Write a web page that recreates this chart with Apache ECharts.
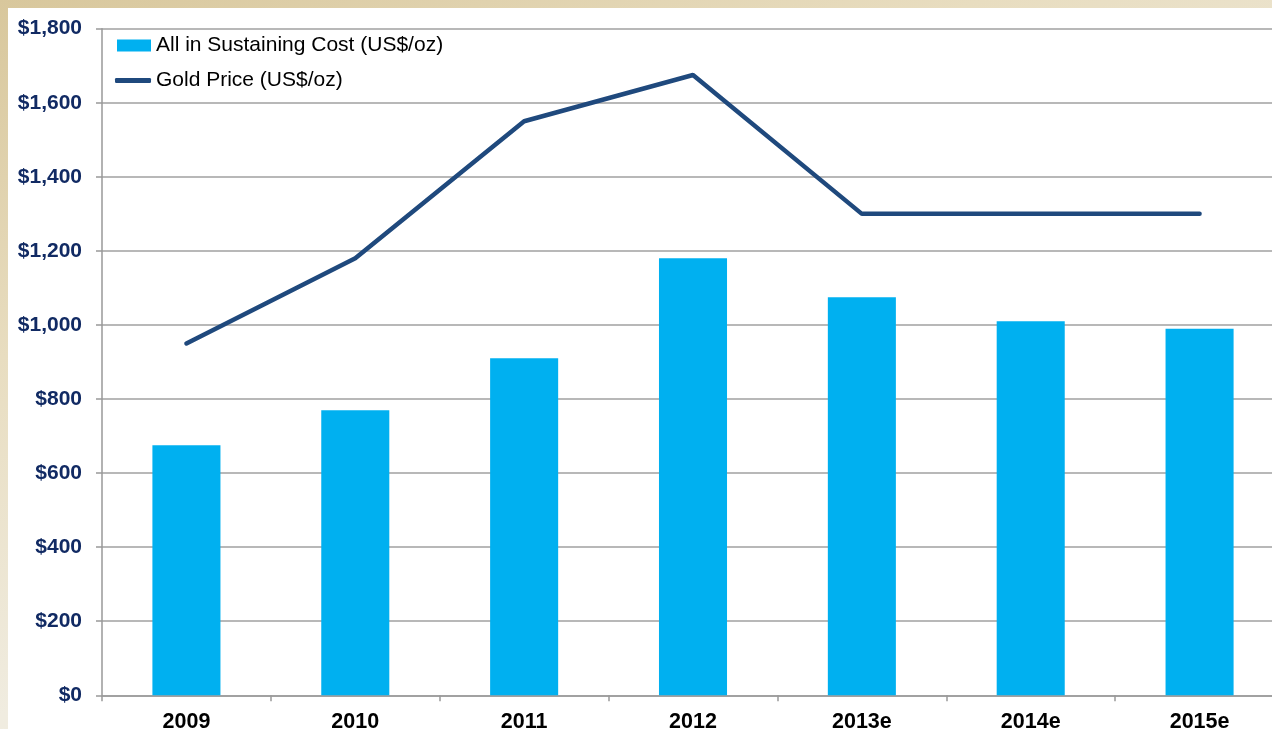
<!DOCTYPE html>
<html>
<head>
<meta charset="utf-8">
<script src="https://cdn.jsdelivr.net/npm/echarts@6/dist/echarts.min.js"></script>
<style>
  html, body {
    margin: 0;
    width: 1272px;
    height: 729px;
    overflow: hidden;
    background: linear-gradient(160deg, #d8c79c 0%, #e8ddc0 30%, #f0ece0 60%, #f1eee4 100%);
  }
  #chart {
    position: absolute;
    left: 8px;
    top: 8px;
    width: 1264px;
    height: 721px;
    background: #ffffff;
  }
</style>
</head>
<body>
<div id="chart"></div>
<script>
// categories and values
const years = ['2009', '2010', '2011', '2012', '2013e', '2014e', '2015e'];
const sustainingCost = [675, 770, 910, 1180, 1075, 1010, 990];
const goldPrice = [950, 1180, 1550, 1675, 1300, 1300, 1300];

const costName = 'All in Sustaining Cost (US$/oz)';
const priceName = 'Gold Price (US$/oz)';

const legendText = {
  fontFamily: 'Liberation Sans, Arial, sans-serif',
  fontSize: 21,
  color: '#000'
};

const chart = echarts.init(document.getElementById('chart'));

chart.setOption({
  animation: false,
  // two legends so the line icon can be thin and the bar icon tall
  legend: [
    {
      left: 104,
      top: 22,
      itemWidth: 34,
      itemHeight: 12,
      textStyle: legendText,
      data: [{ name: costName, icon: 'rect' }]
    },
    {
      left: 102,
      top: 57,
      itemWidth: 36,
      itemHeight: 5,
      textStyle: legendText,
      data: [{ name: priceName, icon: 'roundRect' }]
    }
  ],
  grid: {
    left: 94,
    right: -12,
    top: 20.7,
    bottom: 33.7,
    outerBoundsMode: 'none'
  },
  xAxis: {
    type: 'category',
    data: years,
    axisLine: { lineStyle: { color: '#999', width: 1.5 } },
    axisTick: { show: true, length: 6, lineStyle: { color: '#999', width: 1.5 } },
    axisLabel: {
      margin: 16,
      fontFamily: 'Liberation Sans, Arial, sans-serif',
      fontWeight: 'bold',
      fontSize: 21.5,
      color: '#000'
    }
  },
  yAxis: {
    type: 'value',
    min: 0,
    max: 1800,
    interval: 200,
    axisLine: { show: true, lineStyle: { color: '#999', width: 1.5 } },
    axisTick: { show: true, length: 6, lineStyle: { color: '#999', width: 1.5 } },
    splitLine: { lineStyle: { color: '#a0a0a0', width: 1.5 } },
    axisLabel: {
      margin: 20,
      fontFamily: 'Liberation Sans, Arial, sans-serif',
      fontWeight: 'bold',
      fontSize: 21,
      color: '#112a63',
      formatter: v => '$' + v.toLocaleString('en-US')
    }
  },
  series: [
    {
      name: costName,
      type: 'bar',
      data: sustainingCost,
      barWidth: '40.3%',
      itemStyle: { color: '#00b0f0' }
    },
    {
      name: priceName,
      type: 'line',
      data: goldPrice,
      symbol: 'none',
      lineStyle: { color: '#1f497d', width: 4.5, cap: 'round' },
      itemStyle: { color: '#1f497d' }
    }
  ]
});
</script>
</body>
</html>
